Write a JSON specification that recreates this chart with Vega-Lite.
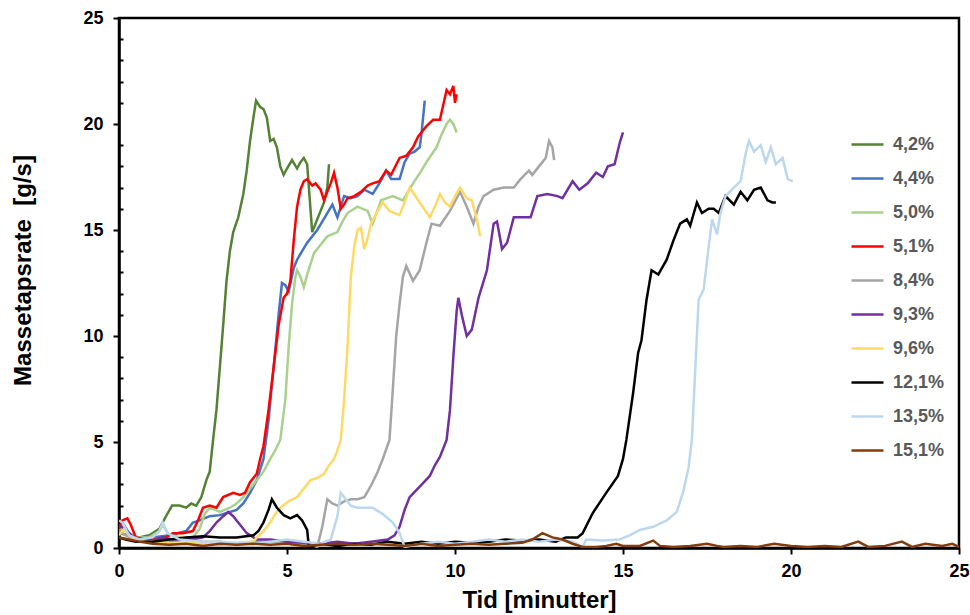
{
  "$schema": "https://vega.github.io/schema/vega-lite/v6.json",
  "width": 840,
  "height": 530,
  "autosize": {"type": "none"},
  "padding": {"left": 119, "top": 18, "right": 11, "bottom": 67},
  "background": "white",
  "config": {
    "font": "Liberation Sans",
    "view": {"stroke": "black", "strokeWidth": 2.5},
    "axis": {"grid": false, "domainColor": "black", "domainWidth": 2.5, "tickColor": "black", "tickWidth": 2, "labelColor": "black", "labelFont": "Liberation Sans", "labelFontWeight": "bold", "labelFontSize": 18, "titleFont": "Liberation Sans", "titleFontWeight": "bold", "titleFontSize": 24, "titleColor": "black"}
  },
  "datasets": {
    "d": [
      {"s":"4,2%","t":0,"v":0.7},{"s":"4,2%","t":0.3,"v":0.6},{"s":"4,2%","t":0.6,"v":0.5},{"s":"4,2%","t":0.9,"v":0.6},{"s":"4,2%","t":1.2,"v":0.9},{"s":"4,2%","t":1.4,"v":1.5},{"s":"4,2%","t":1.58,"v":2.0},{"s":"4,2%","t":1.8,"v":2.0},{"s":"4,2%","t":2.0,"v":1.9},{"s":"4,2%","t":2.15,"v":2.1},{"s":"4,2%","t":2.3,"v":2.0},{"s":"4,2%","t":2.45,"v":2.4},{"s":"4,2%","t":2.6,"v":3.2},{"s":"4,2%","t":2.7,"v":3.6},{"s":"4,2%","t":2.8,"v":5.1},{"s":"4,2%","t":2.9,"v":6.5},{"s":"4,2%","t":3.0,"v":8.5},{"s":"4,2%","t":3.1,"v":10.5},{"s":"4,2%","t":3.2,"v":12.6},{"s":"4,2%","t":3.3,"v":14.0},{"s":"4,2%","t":3.4,"v":14.9},{"s":"4,2%","t":3.55,"v":15.6},{"s":"4,2%","t":3.7,"v":16.7},{"s":"4,2%","t":3.8,"v":17.8},{"s":"4,2%","t":3.9,"v":19.2},{"s":"4,2%","t":4.0,"v":20.3},{"s":"4,2%","t":4.08,"v":21.1},{"s":"4,2%","t":4.2,"v":20.8},{"s":"4,2%","t":4.3,"v":20.7},{"s":"4,2%","t":4.4,"v":20.3},{"s":"4,2%","t":4.5,"v":19.2},{"s":"4,2%","t":4.6,"v":19.3},{"s":"4,2%","t":4.7,"v":18.9},{"s":"4,2%","t":4.8,"v":18.0},{"s":"4,2%","t":4.9,"v":17.6},{"s":"4,2%","t":5.0,"v":17.9},{"s":"4,2%","t":5.15,"v":18.3},{"s":"4,2%","t":5.3,"v":17.9},{"s":"4,2%","t":5.4,"v":18.2},{"s":"4,2%","t":5.5,"v":18.4},{"s":"4,2%","t":5.6,"v":18.1},{"s":"4,2%","t":5.75,"v":14.9},{"s":"4,2%","t":5.9,"v":15.5},{"s":"4,2%","t":6.1,"v":16.3},{"s":"4,2%","t":6.2,"v":17.0},{"s":"4,2%","t":6.25,"v":18.1},

      {"s":"4,4%","t":0,"v":1.0},{"s":"4,4%","t":0.1,"v":1.2},{"s":"4,4%","t":0.3,"v":0.7},{"s":"4,4%","t":0.5,"v":0.5},{"s":"4,4%","t":1.0,"v":0.5},{"s":"4,4%","t":1.5,"v":0.6},{"s":"4,4%","t":2.0,"v":0.8},{"s":"4,4%","t":2.2,"v":1.2},{"s":"4,4%","t":2.4,"v":1.3},{"s":"4,4%","t":2.7,"v":1.5},{"s":"4,4%","t":3.0,"v":1.55},{"s":"4,4%","t":3.3,"v":1.7},{"s":"4,4%","t":3.5,"v":1.8},{"s":"4,4%","t":3.7,"v":2.1},{"s":"4,4%","t":3.9,"v":2.6},{"s":"4,4%","t":4.1,"v":3.2},{"s":"4,4%","t":4.3,"v":4.2},{"s":"4,4%","t":4.45,"v":6.0},{"s":"4,4%","t":4.6,"v":8.5},{"s":"4,4%","t":4.75,"v":11.0},{"s":"4,4%","t":4.85,"v":12.5},{"s":"4,4%","t":4.95,"v":12.4},{"s":"4,4%","t":5.05,"v":12.1},{"s":"4,4%","t":5.2,"v":13.2},{"s":"4,4%","t":5.3,"v":13.6},{"s":"4,4%","t":5.45,"v":14.0},{"s":"4,4%","t":5.6,"v":14.4},{"s":"4,4%","t":5.75,"v":14.7},{"s":"4,4%","t":5.9,"v":15.0},{"s":"4,4%","t":6.05,"v":15.4},{"s":"4,4%","t":6.2,"v":15.8},{"s":"4,4%","t":6.35,"v":16.2},{"s":"4,4%","t":6.5,"v":15.6},{"s":"4,4%","t":6.7,"v":16.6},{"s":"4,4%","t":6.9,"v":16.5},{"s":"4,4%","t":7.1,"v":16.6},{"s":"4,4%","t":7.3,"v":16.9},{"s":"4,4%","t":7.55,"v":16.7},{"s":"4,4%","t":7.75,"v":17.2},{"s":"4,4%","t":7.95,"v":17.8},{"s":"4,4%","t":8.1,"v":17.4},{"s":"4,4%","t":8.35,"v":17.4},{"s":"4,4%","t":8.5,"v":18.2},{"s":"4,4%","t":8.65,"v":18.6},{"s":"4,4%","t":8.8,"v":18.7},{"s":"4,4%","t":8.95,"v":18.9},{"s":"4,4%","t":9.0,"v":19.5},{"s":"4,4%","t":9.05,"v":20.3},{"s":"4,4%","t":9.1,"v":21.1},

      {"s":"5,0%","t":0,"v":0.9},{"s":"5,0%","t":0.2,"v":0.8},{"s":"5,0%","t":0.5,"v":0.5},{"s":"5,0%","t":0.9,"v":0.5},{"s":"5,0%","t":1.2,"v":0.8},{"s":"5,0%","t":1.3,"v":1.1},{"s":"5,0%","t":1.45,"v":0.7},{"s":"5,0%","t":1.8,"v":0.5},{"s":"5,0%","t":2.2,"v":0.5},{"s":"5,0%","t":2.4,"v":0.9},{"s":"5,0%","t":2.55,"v":1.6},{"s":"5,0%","t":2.7,"v":1.9},{"s":"5,0%","t":3.0,"v":1.7},{"s":"5,0%","t":3.3,"v":1.9},{"s":"5,0%","t":3.5,"v":2.1},{"s":"5,0%","t":3.7,"v":2.4},{"s":"5,0%","t":3.9,"v":2.8},{"s":"5,0%","t":4.1,"v":3.2},{"s":"5,0%","t":4.3,"v":3.6},{"s":"5,0%","t":4.5,"v":4.2},{"s":"5,0%","t":4.65,"v":4.6},{"s":"5,0%","t":4.8,"v":5.1},{"s":"5,0%","t":4.95,"v":7.0},{"s":"5,0%","t":5.05,"v":9.5},{"s":"5,0%","t":5.15,"v":11.5},{"s":"5,0%","t":5.25,"v":12.8},{"s":"5,0%","t":5.3,"v":13.1},{"s":"5,0%","t":5.4,"v":12.8},{"s":"5,0%","t":5.5,"v":12.3},{"s":"5,0%","t":5.6,"v":12.9},{"s":"5,0%","t":5.8,"v":13.9},{"s":"5,0%","t":6.0,"v":14.3},{"s":"5,0%","t":6.2,"v":14.7},{"s":"5,0%","t":6.5,"v":14.9},{"s":"5,0%","t":6.65,"v":15.4},{"s":"5,0%","t":6.8,"v":15.8},{"s":"5,0%","t":7.1,"v":16.1},{"s":"5,0%","t":7.4,"v":15.9},{"s":"5,0%","t":7.55,"v":15.3},{"s":"5,0%","t":7.8,"v":16.4},{"s":"5,0%","t":8.15,"v":16.6},{"s":"5,0%","t":8.45,"v":16.4},{"s":"5,0%","t":8.75,"v":17.2},{"s":"5,0%","t":9.0,"v":17.8},{"s":"5,0%","t":9.15,"v":18.2},{"s":"5,0%","t":9.45,"v":18.9},{"s":"5,0%","t":9.6,"v":19.5},{"s":"5,0%","t":9.75,"v":20.0},{"s":"5,0%","t":9.85,"v":20.2},{"s":"5,0%","t":9.95,"v":20.0},{"s":"5,0%","t":10.05,"v":19.6},

      {"s":"5,1%","t":0,"v":0.9},{"s":"5,1%","t":0.1,"v":1.3},{"s":"5,1%","t":0.25,"v":1.4},{"s":"5,1%","t":0.35,"v":1.1},{"s":"5,1%","t":0.5,"v":0.5},{"s":"5,1%","t":0.8,"v":0.4},{"s":"5,1%","t":1.1,"v":0.4},{"s":"5,1%","t":1.4,"v":0.5},{"s":"5,1%","t":1.6,"v":0.7},{"s":"5,1%","t":1.9,"v":0.7},{"s":"5,1%","t":2.2,"v":0.8},{"s":"5,1%","t":2.35,"v":1.3},{"s":"5,1%","t":2.5,"v":1.9},{"s":"5,1%","t":2.7,"v":2.0},{"s":"5,1%","t":2.9,"v":1.9},{"s":"5,1%","t":3.1,"v":2.4},{"s":"5,1%","t":3.4,"v":2.6},{"s":"5,1%","t":3.6,"v":2.5},{"s":"5,1%","t":3.75,"v":2.6},{"s":"5,1%","t":3.9,"v":3.1},{"s":"5,1%","t":4.1,"v":3.5},{"s":"5,1%","t":4.2,"v":4.2},{"s":"5,1%","t":4.3,"v":4.8},{"s":"5,1%","t":4.45,"v":6.5},{"s":"5,1%","t":4.6,"v":8.5},{"s":"5,1%","t":4.75,"v":10.5},{"s":"5,1%","t":4.9,"v":11.8},{"s":"5,1%","t":5.0,"v":12.0},{"s":"5,1%","t":5.1,"v":12.6},{"s":"5,1%","t":5.2,"v":14.5},{"s":"5,1%","t":5.3,"v":16.1},{"s":"5,1%","t":5.4,"v":16.9},{"s":"5,1%","t":5.5,"v":17.3},{"s":"5,1%","t":5.6,"v":17.4},{"s":"5,1%","t":5.75,"v":17.1},{"s":"5,1%","t":5.85,"v":17.2},{"s":"5,1%","t":6.0,"v":16.9},{"s":"5,1%","t":6.1,"v":16.4},{"s":"5,1%","t":6.2,"v":16.8},{"s":"5,1%","t":6.3,"v":17.2},{"s":"5,1%","t":6.4,"v":17.7},{"s":"5,1%","t":6.5,"v":17.0},{"s":"5,1%","t":6.6,"v":16.0},{"s":"5,1%","t":6.7,"v":16.2},{"s":"5,1%","t":6.8,"v":16.5},{"s":"5,1%","t":7.0,"v":16.6},{"s":"5,1%","t":7.2,"v":16.8},{"s":"5,1%","t":7.4,"v":17.1},{"s":"5,1%","t":7.55,"v":17.2},{"s":"5,1%","t":7.75,"v":17.3},{"s":"5,1%","t":7.95,"v":17.8},{"s":"5,1%","t":8.1,"v":17.6},{"s":"5,1%","t":8.35,"v":18.4},{"s":"5,1%","t":8.55,"v":18.5},{"s":"5,1%","t":8.75,"v":18.9},{"s":"5,1%","t":8.9,"v":19.4},{"s":"5,1%","t":9.15,"v":19.9},{"s":"5,1%","t":9.35,"v":20.2},{"s":"5,1%","t":9.55,"v":20.2},{"s":"5,1%","t":9.65,"v":20.9},{"s":"5,1%","t":9.75,"v":21.6},{"s":"5,1%","t":9.85,"v":21.4},{"s":"5,1%","t":9.95,"v":21.8},{"s":"5,1%","t":10.0,"v":21.0},{"s":"5,1%","t":10.05,"v":21.4},

      {"s":"8,4%","t":0,"v":0.8},{"s":"8,4%","t":0.2,"v":0.6},{"s":"8,4%","t":0.5,"v":0.4},{"s":"8,4%","t":1.0,"v":0.3},{"s":"8,4%","t":1.5,"v":0.3},{"s":"8,4%","t":2.0,"v":0.4},{"s":"8,4%","t":2.5,"v":0.3},{"s":"8,4%","t":3.0,"v":0.3},{"s":"8,4%","t":3.5,"v":0.2},{"s":"8,4%","t":4.0,"v":0.3},{"s":"8,4%","t":4.5,"v":0.3},{"s":"8,4%","t":5.0,"v":0.3},{"s":"8,4%","t":5.5,"v":0.2},{"s":"8,4%","t":5.8,"v":0.1},{"s":"8,4%","t":5.9,"v":0.05},{"s":"8,4%","t":6.05,"v":1.0},{"s":"8,4%","t":6.2,"v":2.3},{"s":"8,4%","t":6.35,"v":2.1},{"s":"8,4%","t":6.5,"v":2.0},{"s":"8,4%","t":6.7,"v":2.2},{"s":"8,4%","t":6.9,"v":2.3},{"s":"8,4%","t":7.1,"v":2.3},{"s":"8,4%","t":7.3,"v":2.4},{"s":"8,4%","t":7.45,"v":2.8},{"s":"8,4%","t":7.55,"v":3.1},{"s":"8,4%","t":7.7,"v":3.6},{"s":"8,4%","t":7.85,"v":4.2},{"s":"8,4%","t":8.05,"v":5.1},{"s":"8,4%","t":8.15,"v":7.5},{"s":"8,4%","t":8.25,"v":10.0},{"s":"8,4%","t":8.35,"v":11.5},{"s":"8,4%","t":8.45,"v":12.8},{"s":"8,4%","t":8.55,"v":13.3},{"s":"8,4%","t":8.75,"v":12.6},{"s":"8,4%","t":8.95,"v":13.1},{"s":"8,4%","t":9.15,"v":14.4},{"s":"8,4%","t":9.3,"v":15.3},{"s":"8,4%","t":9.55,"v":15.2},{"s":"8,4%","t":9.85,"v":15.9},{"s":"8,4%","t":10.15,"v":16.8},{"s":"8,4%","t":10.35,"v":16.1},{"s":"8,4%","t":10.55,"v":15.3},{"s":"8,4%","t":10.7,"v":16.1},{"s":"8,4%","t":10.85,"v":16.6},{"s":"8,4%","t":11.15,"v":16.9},{"s":"8,4%","t":11.45,"v":17.0},{"s":"8,4%","t":11.75,"v":17.0},{"s":"8,4%","t":11.95,"v":17.4},{"s":"8,4%","t":12.2,"v":17.8},{"s":"8,4%","t":12.3,"v":17.6},{"s":"8,4%","t":12.5,"v":18.0},{"s":"8,4%","t":12.7,"v":18.4},{"s":"8,4%","t":12.8,"v":19.2},{"s":"8,4%","t":12.9,"v":18.9},{"s":"8,4%","t":12.95,"v":18.3},

      {"s":"9,3%","t":0,"v":1.0},{"s":"9,3%","t":0.1,"v":1.0},{"s":"9,3%","t":0.3,"v":0.7},{"s":"9,3%","t":0.5,"v":0.4},{"s":"9,3%","t":0.8,"v":0.3},{"s":"9,3%","t":1.1,"v":0.4},{"s":"9,3%","t":1.3,"v":0.5},{"s":"9,3%","t":1.6,"v":0.4},{"s":"9,3%","t":2.0,"v":0.4},{"s":"9,3%","t":2.3,"v":0.45},{"s":"9,3%","t":2.5,"v":0.5},{"s":"9,3%","t":2.7,"v":0.8},{"s":"9,3%","t":2.9,"v":1.2},{"s":"9,3%","t":3.1,"v":1.5},{"s":"9,3%","t":3.25,"v":1.7},{"s":"9,3%","t":3.4,"v":1.5},{"s":"9,3%","t":3.5,"v":1.3},{"s":"9,3%","t":3.65,"v":1.0},{"s":"9,3%","t":3.8,"v":0.7},{"s":"9,3%","t":4.1,"v":0.4},{"s":"9,3%","t":4.5,"v":0.4},{"s":"9,3%","t":5.0,"v":0.3},{"s":"9,3%","t":5.5,"v":0.25},{"s":"9,3%","t":6.0,"v":0.2},{"s":"9,3%","t":6.5,"v":0.3},{"s":"9,3%","t":7.0,"v":0.2},{"s":"9,3%","t":7.5,"v":0.3},{"s":"9,3%","t":8.0,"v":0.4},{"s":"9,3%","t":8.2,"v":0.6},{"s":"9,3%","t":8.35,"v":1.0},{"s":"9,3%","t":8.5,"v":1.8},{"s":"9,3%","t":8.65,"v":2.4},{"s":"9,3%","t":8.95,"v":2.9},{"s":"9,3%","t":9.25,"v":3.4},{"s":"9,3%","t":9.4,"v":3.9},{"s":"9,3%","t":9.55,"v":4.3},{"s":"9,3%","t":9.75,"v":5.1},{"s":"9,3%","t":9.85,"v":6.5},{"s":"9,3%","t":9.95,"v":9.0},{"s":"9,3%","t":10.05,"v":11.2},{"s":"9,3%","t":10.1,"v":11.8},{"s":"9,3%","t":10.2,"v":11.0},{"s":"9,3%","t":10.35,"v":10.0},{"s":"9,3%","t":10.5,"v":10.3},{"s":"9,3%","t":10.7,"v":11.8},{"s":"9,3%","t":10.95,"v":13.1},{"s":"9,3%","t":11.15,"v":15.3},{"s":"9,3%","t":11.25,"v":15.4},{"s":"9,3%","t":11.4,"v":14.1},{"s":"9,3%","t":11.55,"v":14.4},{"s":"9,3%","t":11.75,"v":15.6},{"s":"9,3%","t":12.05,"v":15.6},{"s":"9,3%","t":12.25,"v":15.6},{"s":"9,3%","t":12.45,"v":16.6},{"s":"9,3%","t":12.75,"v":16.7},{"s":"9,3%","t":13.05,"v":16.6},{"s":"9,3%","t":13.2,"v":16.5},{"s":"9,3%","t":13.5,"v":17.3},{"s":"9,3%","t":13.7,"v":16.9},{"s":"9,3%","t":13.95,"v":17.2},{"s":"9,3%","t":14.2,"v":17.7},{"s":"9,3%","t":14.4,"v":17.5},{"s":"9,3%","t":14.55,"v":18.0},{"s":"9,3%","t":14.75,"v":18.1},{"s":"9,3%","t":14.9,"v":19.1},{"s":"9,3%","t":15.0,"v":19.6},

      {"s":"9,6%","t":0,"v":0.6},{"s":"9,6%","t":0.15,"v":0.9},{"s":"9,6%","t":0.3,"v":0.6},{"s":"9,6%","t":0.5,"v":0.4},{"s":"9,6%","t":0.8,"v":0.3},{"s":"9,6%","t":1.2,"v":0.3},{"s":"9,6%","t":1.6,"v":0.2},{"s":"9,6%","t":2.0,"v":0.25},{"s":"9,6%","t":2.5,"v":0.2},{"s":"9,6%","t":3.0,"v":0.15},{"s":"9,6%","t":3.5,"v":0.25},{"s":"9,6%","t":4.0,"v":0.3},{"s":"9,6%","t":4.1,"v":0.5},{"s":"9,6%","t":4.3,"v":0.8},{"s":"9,6%","t":4.5,"v":1.2},{"s":"9,6%","t":4.65,"v":1.6},{"s":"9,6%","t":4.8,"v":1.9},{"s":"9,6%","t":5.05,"v":2.2},{"s":"9,6%","t":5.3,"v":2.4},{"s":"9,6%","t":5.5,"v":2.8},{"s":"9,6%","t":5.7,"v":3.2},{"s":"9,6%","t":5.9,"v":3.3},{"s":"9,6%","t":6.1,"v":3.5},{"s":"9,6%","t":6.25,"v":3.9},{"s":"9,6%","t":6.4,"v":4.2},{"s":"9,6%","t":6.5,"v":4.6},{"s":"9,6%","t":6.6,"v":5.1},{"s":"9,6%","t":6.7,"v":7.0},{"s":"9,6%","t":6.8,"v":9.5},{"s":"9,6%","t":6.9,"v":12.8},{"s":"9,6%","t":7.0,"v":14.2},{"s":"9,6%","t":7.1,"v":15.0},{"s":"9,6%","t":7.2,"v":15.1},{"s":"9,6%","t":7.3,"v":14.1},{"s":"9,6%","t":7.4,"v":14.6},{"s":"9,6%","t":7.5,"v":15.3},{"s":"9,6%","t":7.7,"v":15.9},{"s":"9,6%","t":7.85,"v":16.3},{"s":"9,6%","t":8.05,"v":15.9},{"s":"9,6%","t":8.35,"v":15.7},{"s":"9,6%","t":8.5,"v":16.3},{"s":"9,6%","t":8.65,"v":17.0},{"s":"9,6%","t":8.95,"v":16.3},{"s":"9,6%","t":9.25,"v":15.6},{"s":"9,6%","t":9.4,"v":16.1},{"s":"9,6%","t":9.55,"v":16.7},{"s":"9,6%","t":9.7,"v":16.3},{"s":"9,6%","t":9.85,"v":16.1},{"s":"9,6%","t":10.0,"v":16.6},{"s":"9,6%","t":10.15,"v":17.0},{"s":"9,6%","t":10.35,"v":16.5},{"s":"9,6%","t":10.5,"v":16.4},{"s":"9,6%","t":10.65,"v":15.5},{"s":"9,6%","t":10.75,"v":14.7},

      {"s":"12,1%","t":0,"v":0.5},{"s":"12,1%","t":0.2,"v":0.4},{"s":"12,1%","t":0.5,"v":0.3},{"s":"12,1%","t":1.0,"v":0.3},{"s":"12,1%","t":1.5,"v":0.4},{"s":"12,1%","t":2.0,"v":0.5},{"s":"12,1%","t":2.5,"v":0.55},{"s":"12,1%","t":3.0,"v":0.5},{"s":"12,1%","t":3.5,"v":0.5},{"s":"12,1%","t":4.0,"v":0.6},{"s":"12,1%","t":4.15,"v":0.8},{"s":"12,1%","t":4.3,"v":1.2},{"s":"12,1%","t":4.45,"v":1.8},{"s":"12,1%","t":4.55,"v":2.3},{"s":"12,1%","t":4.7,"v":1.9},{"s":"12,1%","t":4.9,"v":1.55},{"s":"12,1%","t":5.1,"v":1.4},{"s":"12,1%","t":5.3,"v":1.55},{"s":"12,1%","t":5.45,"v":1.3},{"s":"12,1%","t":5.6,"v":0.85},{"s":"12,1%","t":5.65,"v":0.05},{"s":"12,1%","t":6.0,"v":0.2},{"s":"12,1%","t":6.5,"v":0.1},{"s":"12,1%","t":7.0,"v":0.2},{"s":"12,1%","t":7.5,"v":0.15},{"s":"12,1%","t":8.0,"v":0.3},{"s":"12,1%","t":8.5,"v":0.2},{"s":"12,1%","t":9.0,"v":0.3},{"s":"12,1%","t":9.5,"v":0.2},{"s":"12,1%","t":10.0,"v":0.3},{"s":"12,1%","t":10.5,"v":0.25},{"s":"12,1%","t":11.0,"v":0.3},{"s":"12,1%","t":11.5,"v":0.4},{"s":"12,1%","t":12.0,"v":0.35},{"s":"12,1%","t":12.5,"v":0.4},{"s":"12,1%","t":13.0,"v":0.3},{"s":"12,1%","t":13.3,"v":0.5},{"s":"12,1%","t":13.65,"v":0.5},{"s":"12,1%","t":13.8,"v":0.7},{"s":"12,1%","t":14.1,"v":1.65},{"s":"12,1%","t":14.5,"v":2.6},{"s":"12,1%","t":14.85,"v":3.4},{"s":"12,1%","t":15.0,"v":4.2},{"s":"12,1%","t":15.1,"v":5.1},{"s":"12,1%","t":15.3,"v":7.3},{"s":"12,1%","t":15.45,"v":9.2},{"s":"12,1%","t":15.55,"v":9.8},{"s":"12,1%","t":15.7,"v":11.7},{"s":"12,1%","t":15.85,"v":13.1},{"s":"12,1%","t":16.05,"v":12.9},{"s":"12,1%","t":16.3,"v":13.6},{"s":"12,1%","t":16.5,"v":14.5},{"s":"12,1%","t":16.7,"v":15.3},{"s":"12,1%","t":16.9,"v":15.5},{"s":"12,1%","t":17.0,"v":15.2},{"s":"12,1%","t":17.2,"v":16.3},{"s":"12,1%","t":17.35,"v":15.8},{"s":"12,1%","t":17.55,"v":16.0},{"s":"12,1%","t":17.7,"v":16.0},{"s":"12,1%","t":17.85,"v":15.8},{"s":"12,1%","t":18.05,"v":16.6},{"s":"12,1%","t":18.3,"v":16.2},{"s":"12,1%","t":18.5,"v":16.8},{"s":"12,1%","t":18.7,"v":16.4},{"s":"12,1%","t":18.9,"v":16.9},{"s":"12,1%","t":19.1,"v":17.0},{"s":"12,1%","t":19.3,"v":16.4},{"s":"12,1%","t":19.45,"v":16.3},{"s":"12,1%","t":19.55,"v":16.3},

      {"s":"13,5%","t":0,"v":1.3},{"s":"13,5%","t":0.1,"v":1.2},{"s":"13,5%","t":0.3,"v":0.6},{"s":"13,5%","t":0.6,"v":0.4},{"s":"13,5%","t":1.0,"v":0.5},{"s":"13,5%","t":1.2,"v":0.8},{"s":"13,5%","t":1.3,"v":1.2},{"s":"13,5%","t":1.45,"v":0.7},{"s":"13,5%","t":1.8,"v":0.4},{"s":"13,5%","t":2.5,"v":0.3},{"s":"13,5%","t":3.0,"v":0.3},{"s":"13,5%","t":3.5,"v":0.25},{"s":"13,5%","t":4.0,"v":0.2},{"s":"13,5%","t":4.5,"v":0.3},{"s":"13,5%","t":5.0,"v":0.4},{"s":"13,5%","t":5.5,"v":0.3},{"s":"13,5%","t":6.0,"v":0.2},{"s":"13,5%","t":6.3,"v":0.4},{"s":"13,5%","t":6.5,"v":1.5},{"s":"13,5%","t":6.6,"v":2.6},{"s":"13,5%","t":6.7,"v":2.4},{"s":"13,5%","t":6.9,"v":2.0},{"s":"13,5%","t":7.1,"v":1.9},{"s":"13,5%","t":7.3,"v":1.9},{"s":"13,5%","t":7.55,"v":1.9},{"s":"13,5%","t":7.85,"v":1.6},{"s":"13,5%","t":8.15,"v":1.2},{"s":"13,5%","t":8.35,"v":0.7},{"s":"13,5%","t":8.5,"v":0.05},{"s":"13,5%","t":9.0,"v":0.2},{"s":"13,5%","t":9.5,"v":0.3},{"s":"13,5%","t":10.0,"v":0.2},{"s":"13,5%","t":10.5,"v":0.3},{"s":"13,5%","t":11.0,"v":0.4},{"s":"13,5%","t":11.5,"v":0.3},{"s":"13,5%","t":12.0,"v":0.4},{"s":"13,5%","t":12.5,"v":0.3},{"s":"13,5%","t":13.0,"v":0.4},{"s":"13,5%","t":13.5,"v":0.3},{"s":"13,5%","t":13.8,"v":0.05},{"s":"13,5%","t":13.9,"v":0.4},{"s":"13,5%","t":14.4,"v":0.35},{"s":"13,5%","t":14.9,"v":0.4},{"s":"13,5%","t":15.2,"v":0.6},{"s":"13,5%","t":15.5,"v":0.85},{"s":"13,5%","t":15.9,"v":1.0},{"s":"13,5%","t":16.3,"v":1.3},{"s":"13,5%","t":16.6,"v":1.7},{"s":"13,5%","t":16.8,"v":2.7},{"s":"13,5%","t":16.95,"v":3.8},{"s":"13,5%","t":17.05,"v":5.1},{"s":"13,5%","t":17.15,"v":8.4},{"s":"13,5%","t":17.25,"v":11.7},{"s":"13,5%","t":17.4,"v":12.2},{"s":"13,5%","t":17.55,"v":14.2},{"s":"13,5%","t":17.65,"v":15.5},{"s":"13,5%","t":17.8,"v":14.8},{"s":"13,5%","t":17.9,"v":15.8},{"s":"13,5%","t":18.05,"v":16.6},{"s":"13,5%","t":18.3,"v":17.0},{"s":"13,5%","t":18.5,"v":17.3},{"s":"13,5%","t":18.65,"v":18.6},{"s":"13,5%","t":18.75,"v":19.2},{"s":"13,5%","t":18.9,"v":18.7},{"s":"13,5%","t":19.1,"v":19.0},{"s":"13,5%","t":19.25,"v":18.2},{"s":"13,5%","t":19.4,"v":18.9},{"s":"13,5%","t":19.55,"v":18.1},{"s":"13,5%","t":19.75,"v":18.4},{"s":"13,5%","t":19.9,"v":17.4},{"s":"13,5%","t":20.05,"v":17.3},

      {"s":"15,1%","t":0,"v":0.5},{"s":"15,1%","t":0.3,"v":0.4},{"s":"15,1%","t":0.6,"v":0.3},{"s":"15,1%","t":1.0,"v":0.2},{"s":"15,1%","t":1.5,"v":0.15},{"s":"15,1%","t":2.0,"v":0.2},{"s":"15,1%","t":2.5,"v":0.1},{"s":"15,1%","t":3.0,"v":0.2},{"s":"15,1%","t":3.5,"v":0.15},{"s":"15,1%","t":4.0,"v":0.2},{"s":"15,1%","t":4.5,"v":0.15},{"s":"15,1%","t":5.0,"v":0.2},{"s":"15,1%","t":5.5,"v":0.1},{"s":"15,1%","t":6.0,"v":0.15},{"s":"15,1%","t":6.5,"v":0.2},{"s":"15,1%","t":7.0,"v":0.15},{"s":"15,1%","t":7.5,"v":0.2},{"s":"15,1%","t":8.0,"v":0.15},{"s":"15,1%","t":8.5,"v":0.1},{"s":"15,1%","t":9.0,"v":0.2},{"s":"15,1%","t":9.5,"v":0.1},{"s":"15,1%","t":10.0,"v":0.15},{"s":"15,1%","t":10.5,"v":0.2},{"s":"15,1%","t":11.0,"v":0.15},{"s":"15,1%","t":11.5,"v":0.2},{"s":"15,1%","t":12.0,"v":0.25},{"s":"15,1%","t":12.3,"v":0.4},{"s":"15,1%","t":12.6,"v":0.7},{"s":"15,1%","t":12.9,"v":0.5},{"s":"15,1%","t":13.2,"v":0.4},{"s":"15,1%","t":13.5,"v":0.2},{"s":"15,1%","t":13.8,"v":0.05},{"s":"15,1%","t":14.2,"v":0.05},{"s":"15,1%","t":14.5,"v":0.1},{"s":"15,1%","t":14.8,"v":0.2},{"s":"15,1%","t":15.0,"v":0.1},{"s":"15,1%","t":15.5,"v":0.1},{"s":"15,1%","t":15.9,"v":0.35},{"s":"15,1%","t":16.1,"v":0.1},{"s":"15,1%","t":16.5,"v":0.05},{"s":"15,1%","t":17.0,"v":0.1},{"s":"15,1%","t":17.5,"v":0.2},{"s":"15,1%","t":17.8,"v":0.1},{"s":"15,1%","t":18.0,"v":0.05},{"s":"15,1%","t":18.5,"v":0.1},{"s":"15,1%","t":19.0,"v":0.05},{"s":"15,1%","t":19.5,"v":0.2},{"s":"15,1%","t":20.0,"v":0.1},{"s":"15,1%","t":20.5,"v":0.05},{"s":"15,1%","t":21.0,"v":0.1},{"s":"15,1%","t":21.5,"v":0.05},{"s":"15,1%","t":22.0,"v":0.3},{"s":"15,1%","t":22.3,"v":0.05},{"s":"15,1%","t":22.8,"v":0.1},{"s":"15,1%","t":23.3,"v":0.3},{"s":"15,1%","t":23.6,"v":0.05},{"s":"15,1%","t":24.0,"v":0.2},{"s":"15,1%","t":24.5,"v":0.1},{"s":"15,1%","t":24.8,"v":0.2},{"s":"15,1%","t":25.0,"v":0.05}
    ]
  },
  "data": {"name": "d"},
  "mark": {"type": "line", "strokeWidth": 2.5, "clip": true},
  "encoding": {
    "x": {
      "field": "t", "type": "quantitative",
      "scale": {"domain": [0, 25], "nice": false},
      "axis": {"title": "Tid [minutter]", "values": [0, 5, 10, 15, 20, 25], "tickSize": 6, "labelPadding": 8, "titlePadding": 8, "labelFlush": false}
    },
    "y": {
      "field": "v", "type": "quantitative",
      "scale": {"domain": [0, 25], "nice": false},
      "axis": {
        "title": "Massetapsrate\u00a0 [g/s]",
        "titleY": 252,
        "values": [0,1,2,3,4,5,6,7,8,9,10,11,12,13,14,15,16,17,18,19,20,21,22,23,24,25],
        "labelExpr": "datum.value % 5 === 0 ? datum.label : ''",
        "tickSize": {"condition": {"test": "datum.value % 5 === 0", "value": 6}, "value": -4},
        "labelPadding": 10,
        "titlePadding": 47,
        "labelFlush": false
      }
    },
    "color": {
      "field": "s", "type": "nominal",
      "scale": {
        "domain": ["4,2%","4,4%","5,0%","5,1%","8,4%","9,3%","9,6%","12,1%","13,5%","15,1%"],
        "range": ["#548235","#4472C4","#A9D18E","#FF0000","#A5A5A5","#7030A0","#FFD966","#000000","#BDD7EE","#843C0C"]
      },
      "legend": {
        "title": null,
        "orient": "none",
        "legendX": 731,
        "legendY": 109,
        "symbolType": "stroke",
        "symbolSize": 1024,
        "symbolStrokeWidth": 2.5,
        "labelFontSize": 18,
        "labelFontWeight": "bold",
        "labelColor": "#595959",
        "labelFont": "Liberation Sans",
        "labelOffset": 8,
        "rowPadding": 7
      }
    }
  }
}
